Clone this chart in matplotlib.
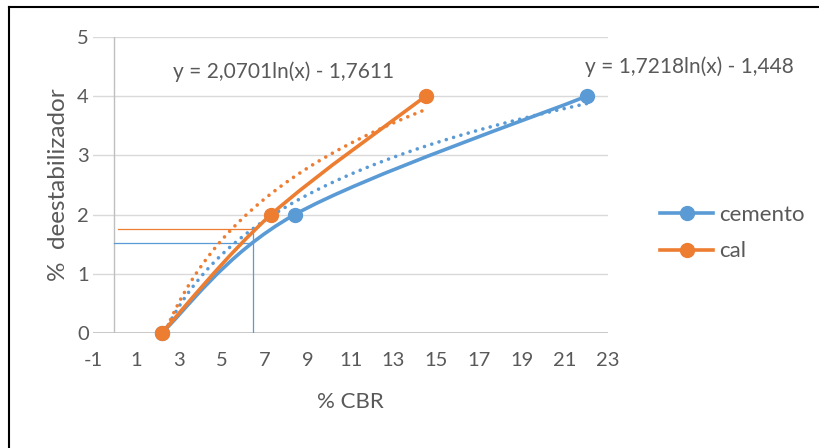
import numpy as np
import matplotlib
matplotlib.use("Agg")
import matplotlib.pyplot as plt
from matplotlib.path import Path
from matplotlib.patches import PathPatch
from matplotlib.lines import Line2D

plt.rcParams['font.family'] = ['Lato', 'DejaVu Sans']

# Measured points: % CBR vs % stabiliser
cemento_x = [2.2, 8.4, 22.0]
cemento_y = [0, 2, 4]
cal_x = [2.2, 7.3, 14.5]
cal_y = [0, 2, 4]

# Logarithmic trendline coefficients  y = a ln(x) + b
cemento_fit = (1.7218, -1.448)
cal_fit = (2.0701, -1.7611)

# Reading guides
guide_cemento_y = 1.52
guide_cal_y = 1.76
guide_x = 6.45

x_ticks = list(range(-1, 24, 2))
y_ticks = [0, 1, 2, 3, 4, 5]

BLUE = '#5B9BD5'
ORANGE = '#ED7D31'
TEXT = '#595959'
GRID = '#D9D9D9'

fig = plt.figure(figsize=(8.2, 4.48), dpi=100)
ax = fig.add_axes([93/820, 1-333/448, (608-93)/820, (333-37)/448])
ax.set_xlim(-1, 23)
ax.set_ylim(0, 5)

for s in ax.spines.values():
    s.set_visible(False)

for yv in y_ticks[1:]:
    ax.axhline(yv, color=GRID, lw=1.0, zorder=0)
ax.axhline(0, color='#BFBFBF', lw=1.2, zorder=1)
ax.axvline(0, color='#BFBFBF', lw=1.0, zorder=1)

ax.set_xticks(x_ticks)
ax.set_yticks(y_ticks)
ax.set_xticklabels([str(v) for v in x_ticks])
ax.set_yticklabels([str(v) for v in y_ticks])
ax.tick_params(axis='both', length=0, labelsize=14.5, labelcolor=TEXT)
ax.tick_params(axis='x', pad=14)
ax.tick_params(axis='y', pad=3)

ax.set_xlabel('% CBR', fontsize=16, color=TEXT, labelpad=16)
ax.set_ylabel('%  deestabilizador', fontsize=17.5, color=TEXT, labelpad=6)


def smooth_path(xs, ys):
    """Catmull-Rom style Bezier path through the points."""
    pts = np.column_stack([xs, ys]).astype(float)
    ext = np.vstack([pts[0], pts, pts[-1]])
    verts = [pts[0]]
    codes = [Path.MOVETO]
    for i in range(1, len(ext) - 2):
        p0, p1, p2, p3 = ext[i-1], ext[i], ext[i+1], ext[i+2]
        c1 = p1 + (p2 - p0) / 6.0
        c2 = p2 - (p3 - p1) / 6.0
        verts += [c1, c2, p2]
        codes += [Path.CURVE4] * 3
    return Path(verts, codes)


# Guide lines
ax.plot([0, guide_x], [guide_cemento_y, guide_cemento_y], color=BLUE, lw=0.9, zorder=2)
ax.plot([0.15, guide_x], [guide_cal_y, guide_cal_y], color=ORANGE, lw=0.9, zorder=2)
ax.plot([guide_x, guide_x], [0, guide_cal_y], color=BLUE, lw=0.9, zorder=2)

# Trendlines (dotted)
for xs, (a, b), col in [(cemento_x, cemento_fit, BLUE), (cal_x, cal_fit, ORANGE)]:
    xt = np.linspace(xs[0], xs[-1], 300)
    ax.plot(xt, a*np.log(xt) + b, color=col, lw=2.6, linestyle=(0, (0.01, 2.1)),
            dash_capstyle='round', zorder=3)

# Smoothed series with markers
for xs, ys, col in [(cemento_x, cemento_y, BLUE), (cal_x, cal_y, ORANGE)]:
    ax.add_patch(PathPatch(smooth_path(xs, ys), facecolor='none', edgecolor=col,
                           lw=2.6, capstyle='round', zorder=4))
    ax.plot(xs, ys, linestyle='none', marker='o', markersize=10, color=col,
            zorder=5, clip_on=False)

# Trendline equations
def eq_text(a, b):
    return f"y = {a:.4f}ln(x) - {abs(b):g}".replace('.', ',')

ax.text(7.9, 4.42, eq_text(*cal_fit), fontsize=15, color=TEXT, ha='center', va='center')
ax.text(26.8, 4.49, eq_text(*cemento_fit), fontsize=15, color=TEXT, ha='center',
        va='center', clip_on=False)

# Legend
handles = [Line2D([], [], color=BLUE, lw=2.6, marker='o', markersize=10),
           Line2D([], [], color=ORANGE, lw=2.6, marker='o', markersize=10)]
leg = fig.legend(handles, ['cemento', 'cal'], loc='center left',
                 bbox_to_anchor=(640/820, 1-233/448), frameon=False, fontsize=16,
                 labelcolor=TEXT, handlelength=2.4, handletextpad=0.25,
                 labelspacing=0.75)

# Chart frame edges
fig.add_artist(Line2D([9/820, 9/820], [0, 1-7.5/448], transform=fig.transFigure,
                      color='black', lw=1.5))
fig.add_artist(Line2D([9/820, 1], [1-7.5/448, 1-7.5/448], transform=fig.transFigure,
                      color='black', lw=1.5))

fig.savefig('out.png', dpi=100)
